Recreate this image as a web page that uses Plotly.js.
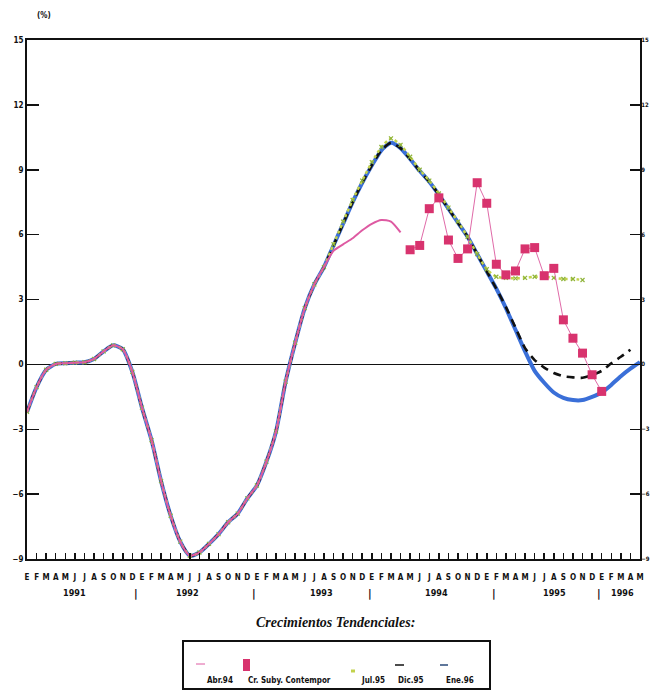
<!DOCTYPE html>
<html><head><meta charset="utf-8">
<script src="https://cdn.plot.ly/plotly-3.0.1.min.js"></script>
<style>body{margin:0;background:#fff}#chart{width:652px;height:692px}</style>
</head><body><div id="chart"></div>
<script>
// Month initials (Spanish) and years
const monthLetters = ['E','F','M','A','M','J','J','A','S','O','N','D'];
const yearLabels = ['1991','1992','1993','1994','1995','1996'];
const nMonths = 65; // Ene 1991 .. May 1996

// Common trend, Ene 1991 .. Ago 1993 (months 0..31)
const common = [-2.2,-1.05,-0.25,0.02,0.05,0.08,0.1,0.25,0.6,0.88,0.7,-0.35,
  -2.0,-3.5,-5.4,-7.0,-8.2,-8.85,-8.7,-8.3,-7.85,-7.3,-6.9,-6.2,
  -5.6,-4.5,-3.1,-0.8,1.0,2.6,3.7,4.5];
// Branches from Sep 1993 (month 32)
const abr94Tail = [5.25,5.55,5.83,6.2,6.5,6.68,6.6,6.1];
const jul95Tail = [5.55,6.6,7.6,8.5,9.35,10.05,10.45,10.15,9.6,9.0,
  8.5,7.9,7.25,6.6,5.9,5.1,4.4,4.05,4.0,3.98,4.0,4.05,4.05,4.0,3.95,3.95,3.9];
const dic95Tail = [5.5,6.5,7.5,8.4,9.2,9.9,10.25,10.0,9.5,8.95,
  8.45,7.85,7.2,6.55,5.9,5.1,4.3,3.5,2.65,1.7,
  0.75,0.2,-0.15,-0.4,-0.55,-0.6,-0.62,-0.5,-0.3,0.05,0.35,0.68];
const ene96Tail = [5.5,6.5,7.5,8.4,9.2,9.9,10.25,10.0,9.5,8.95,
  8.45,7.85,7.2,6.55,5.9,5.1,4.3,3.5,2.6,1.6,
  0.6,-0.3,-0.85,-1.3,-1.55,-1.65,-1.65,-1.5,-1.3,-0.95,-0.55,-0.2,0.1];
// Crecimiento subyacente contemporaneo, May 1994 .. Ene 1996
const subyStartMonth = 40;
const suby = [5.3,5.5,7.2,7.7,5.75,4.9,5.34,8.4,7.45,4.63,4.14,4.32,5.34,5.4,4.1,4.44,2.06,1.21,0.52,-0.48,-1.25];
const legendNames = ['Abr.94','Cr. Suby. Contempor','Jul.95','Dic.95','Ene.96'];

const idx = (arr, start) => arr.map((_, i) => start + i);
const abr94 = common.concat(abr94Tail);
const jul95 = common.concat(jul95Tail);
const dic95 = common.concat(dic95Tail);
const ene96 = common.concat(ene96Tail);

const tickVals = [], tickText = [];
for (let m = 0; m < nMonths; m++) { tickVals.push(m); tickText.push(monthLetters[m % 12]); }

const C = {abr: '#de5aa2', suby: '#d8336e', subyLine: '#e06aa8', jul: '#c2d24c', julMk: '#8fb43a', dic: '#111111', ene: '#3a6fd8'};
const narrow = 'Liberation Sans Narrow, Arial Narrow, DejaVu Sans Condensed, Liberation Sans, sans-serif';
const traces = [
  {x: idx(ene96,0), y: ene96, name: legendNames[4], mode: 'lines',
   line: {color: C.ene, width: 4, shape: 'spline', smoothing: 0.6}},
  {x: idx(dic95,0), y: dic95, name: legendNames[3], mode: 'lines',
   line: {color: C.dic, width: 2.6, dash: '8px,6px', shape: 'spline', smoothing: 0.6}},
  {x: idx(jul95,0), y: jul95, name: legendNames[2], mode: 'lines+markers',
   line: {color: C.jul, width: 2.5, dash: 'dot', shape: 'spline', smoothing: 0.6},
   marker: {symbol: 'x-thin', size: 4, line: {color: C.julMk, width: 1.2}, color: C.julMk}},
  {x: idx(abr94,0), y: abr94, name: legendNames[0], mode: 'lines',
   line: {color: C.abr, width: 2, shape: 'spline', smoothing: 0.6}},
  {x: idx(suby, subyStartMonth), y: suby, name: legendNames[1], mode: 'lines+markers',
   line: {color: C.subyLine, width: 1},
   marker: {symbol: 'square', size: 9, color: C.suby}},
  {x: [0], y: [0], yaxis: 'y2', mode: 'none', showlegend: false, hoverinfo: 'skip'}
];

// pixel -> paper helpers
const W = 652, H = 692, M = {l: 27, r: 12, t: 40, b: 133};
const PW = W - M.l - M.r, PH = H - M.t - M.b, B = H - M.b;
const px = v => (v - M.l) / PW;
const py = v => (B - v) / PH;

const annotations = [];
const yearPos = [5.0, 16.8, 30.7, 42.8, 55.1, 62.2];
yearLabels.forEach((t, i) => annotations.push({x: yearPos[i], y: 0, yref: 'paper', yanchor: 'middle', yshift: -34,
  text: t, showarrow: false, font: {family: narrow, size: 9, color: '#111', weight: 'bold'}}));
const sepPos = [11.35, 23.75, 35.8, 48.75, 59.7];
sepPos.forEach(p => annotations.push({x: p, y: 0, yref: 'paper', yanchor: 'middle', yshift: -34,
  text: '|', showarrow: false, font: {family: narrow, size: 11, color: '#111', weight: 'bold'}}));
annotations.push({x: px(335), xref: 'paper', y: py(622), yref: 'paper', yanchor: 'middle',
  text: '<i><b>Crecimientos Tendenciales:</b></i>', showarrow: false,
  font: {family: 'Liberation Serif, DejaVu Serif, serif', size: 14, color: '#111'}});
annotations.push({x: px(35), xref: 'paper', y: py(15), yref: 'paper', yanchor: 'middle',
  text: '<b>(%)</b>', showarrow: false, font: {family: narrow, size: 8, color: '#111'}});

// custom legend (box, symbols, labels)
const legTextX = [220, 289, 373, 410, 460];
legendNames.forEach((t, i) => annotations.push({x: px(legTextX[i]), xref: 'paper', y: py(680), yref: 'paper',
  yanchor: 'middle', xanchor: 'center', text: t, showarrow: false,
  font: {family: narrow, size: 8, color: '#111', weight: 'bold'}}));
const shapes = [
  {type: 'rect', xref: 'paper', yref: 'paper', x0: px(183), x1: px(490), y0: py(641), y1: py(689),
   line: {color: '#111', width: 2}},
  {type: 'line', xref: 'paper', yref: 'paper', x0: px(196), x1: px(205), y0: py(664), y1: py(664), line: {color: C.abr, width: 1}},
  {type: 'rect', xref: 'paper', yref: 'paper', x0: px(243), x1: px(250), y0: py(659), y1: py(671), fillcolor: C.suby, line: {width: 0}},
  {type: 'line', xref: 'paper', yref: 'paper', x0: px(351), x1: px(355), y0: py(671), y1: py(671), line: {color: C.jul, width: 3}},
  {type: 'line', xref: 'paper', yref: 'paper', x0: px(395), x1: px(404), y0: py(665), y1: py(665), line: {color: C.dic, width: 1.5}},
  {type: 'line', xref: 'paper', yref: 'paper', x0: px(440), x1: px(448), y0: py(665), y1: py(665), line: {color: '#2a4a7a', width: 1.5}}
];

const yTicks = [-9,-6,-3,0,3,6,9,12,15];
const tf = {family: narrow, size: 8, color: '#111', weight: 'bold'};
const layout = {
  width: W, height: H,
  margin: {l: M.l, r: M.r, t: M.t, b: M.b, autoexpand: false},
  paper_bgcolor: '#fff', plot_bgcolor: '#fff',
  showlegend: false,
  xaxis: {range: [0, 64], tickvals: tickVals, ticktext: tickText, ticks: 'inside', ticklen: 6,
    tickwidth: 1.5, tickcolor: '#111', showline: true, linecolor: '#111', linewidth: 2, mirror: true,
    showgrid: false, zeroline: false, tickangle: 0, ticklabelstandoff: 9, tickfont: tf},
  yaxis: {range: [-9, 15], tickvals: yTicks, ticks: 'inside', ticklen: 12, tickwidth: 1.5, tickcolor: '#111',
    showline: true, linecolor: '#111', linewidth: 2, showgrid: false,
    zeroline: true, zerolinecolor: '#111', zerolinewidth: 1.5, tickfont: tf},
  yaxis2: {range: [-9, 15], tickvals: yTicks, overlaying: 'y', side: 'right', ticks: 'inside', ticklen: 10,
    tickwidth: 1.5, tickcolor: '#111', showline: true, linecolor: '#111', linewidth: 2, showgrid: false,
    zeroline: false, ticklabelstandoff: -2, tickfont: {family: narrow, size: 6, color: '#111', weight: 'bold'}},
  shapes: shapes,
  annotations: annotations
};
Plotly.newPlot('chart', traces, layout, {displayModeBar: false, staticPlot: true});
</script></body></html>
